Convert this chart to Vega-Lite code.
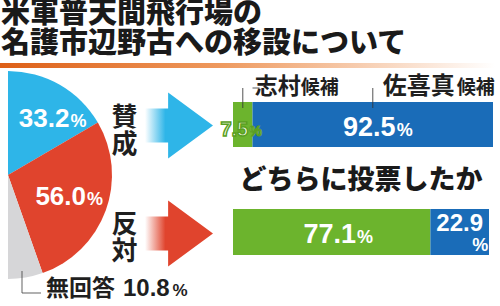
{
  "$schema": "https://vega.github.io/schema/vega-lite/v6.json",
  "padding": 0,
  "background": "#ffffff",
  "title": {
    "text": ["米軍普天間飛行場の", "名護市辺野古への移設について"],
    "anchor": "start",
    "font": "Noto Sans CJK JP",
    "fontSize": 29,
    "fontWeight": 900,
    "color": "#1a1a1a",
    "lineHeight": 30,
    "baseline": "top",
    "offset": 4,
    "dx": 1
  },
  "config": {
    "view": {"stroke": null},
    "text": {"font": "Liberation Sans", "fontWeight": "bold", "baseline": "alphabetic"}
  },
  "bounds": "flush",
  "align": "each",
  "spacing": 34,
  "resolve": {"scale": {"color": "independent"}},
  "vconcat": [
    {
      "width": 495,
      "height": 5,
      "data": {"values": [{"element": "underline"}]},
      "mark": {"type": "rect", "fill": {"gradient": "linear", "x1": 0, "y1": 0, "x2": 1, "y2": 0, "stops": [{"offset": 0, "color": "#dd5f17"}, {"offset": 0.45, "color": "#ee9a5f"}, {"offset": 1, "color": "#ffffff"}]}},
      "encoding": {}
    },
    {
      "bounds": "flush",
      "align": "each",
      "spacing": 20,
      "resolve": {"scale": {"color": "independent"}},
      "hconcat": [
        {
          "width": 16,
          "height": 146,
          "data": {"values": [
            {"answer": "賛成", "no": 1, "pct": 33.2},
            {"answer": "反対", "no": 2, "pct": 56.0},
            {"answer": "無回答", "no": 3, "pct": 10.8}
          ]},
          "encoding": {
            "theta": {"field": "pct", "type": "quantitative", "stack": "zero", "scale": {"domain": [0, 100], "range": [0, 3.14159265]}},
            "order": {"field": "no", "type": "quantitative"}
          },
          "layer": [
            {
              "mark": {"type": "arc", "outerRadius": 104},
              "encoding": {"color": {"field": "answer", "type": "nominal", "scale": {"domain": ["賛成", "反対", "無回答"], "range": ["#2eb5e8", "#e0442d", "#d6d6d8"]}, "legend": null}}
            },
            {
              "mark": {"type": "text", "radius": 70, "align": "right", "dx": 26.6, "dy": 12.7, "fontSize": 26, "color": "#ffffff"},
              "encoding": {"detail": {"field": "answer"}, "text": {"condition": {"test": "datum.answer === '賛成'", "field": "pct", "type": "quantitative", "format": ".1f"}, "value": ""}}
            },
            {
              "mark": {"type": "text", "radius": 70, "align": "left", "dx": 27.6, "dy": 12.7, "fontSize": 18, "color": "#ffffff"},
              "encoding": {"detail": {"field": "answer"}, "text": {"condition": {"test": "datum.answer === '賛成'", "value": "%"}, "value": ""}}
            },
            {
              "mark": {"type": "text", "radius": 70, "align": "right", "dx": 12.3, "dy": 5.9, "fontSize": 26, "color": "#ffffff"},
              "encoding": {"detail": {"field": "answer"}, "text": {"condition": {"test": "datum.answer === '反対'", "field": "pct", "type": "quantitative", "format": ".1f"}, "value": ""}}
            },
            {
              "mark": {"type": "text", "radius": 70, "align": "left", "dx": 13.3, "dy": 5.9, "fontSize": 18, "color": "#ffffff"},
              "encoding": {"detail": {"field": "answer"}, "text": {"condition": {"test": "datum.answer === '反対'", "value": "%"}, "value": ""}}
            },
            {
              "mark": {"type": "text", "radius": 110, "align": "left", "dx": 19.4, "dy": 12.1, "fontSize": 23, "font": "Noto Sans CJK JP", "color": "#1f1f1f"},
              "encoding": {"detail": {"field": "answer"}, "text": {"condition": {"test": "datum.answer === '無回答'", "field": "answer", "type": "nominal"}, "value": ""}}
            },
            {
              "mark": {"type": "text", "radius": 110, "align": "left", "dx": 96.4, "dy": 12.6, "fontSize": 24, "color": "#1f1f1f"},
              "encoding": {"detail": {"field": "answer"}, "text": {"condition": {"test": "datum.answer === '無回答'", "field": "pct", "type": "quantitative", "format": ".1f"}, "value": ""}}
            },
            {
              "mark": {"type": "text", "radius": 110, "align": "left", "dx": 146, "dy": 12.6, "fontSize": 17, "color": "#1f1f1f"},
              "encoding": {"detail": {"field": "answer"}, "text": {"condition": {"test": "datum.answer === '無回答'", "value": "%"}, "value": ""}}
            },
            {
              "transform": [{"filter": "datum.answer === '無回答'"}],
              "mark": {"type": "tick", "orient": "vertical", "size": 22, "thickness": 1.2, "color": "#444444", "xOffset": 14, "yOffset": 107},
              "encoding": {"theta": null, "order": null}
            },
            {
              "transform": [{"filter": "datum.answer === '無回答'"}],
              "mark": {"type": "tick", "orient": "horizontal", "size": 19, "thickness": 1.2, "color": "#444444", "xOffset": 23.5, "yOffset": 118},
              "encoding": {"theta": null, "order": null}
            }
          ]
        },
        {
          "width": 177,
          "height": 155,
          "data": {"values": [{"answer": "賛成"}, {"answer": "反対"}]},
          "encoding": {
            "y": {"field": "answer", "type": "nominal", "scale": {"type": "point", "domain": ["賛成", "反対"], "padding": 0.2176}, "axis": null}
          },
          "layer": [
            {
              "transform": [{"filter": "datum.answer === '賛成'"}],
              "mark": {"type": "point", "shape": "M-1,-0.5L-0.32,-0.5L-0.32,-0.97L1,0L-0.32,0.97L-0.32,0.5L-1,0.5Z", "size": 4624, "filled": true, "opacity": 1, "strokeWidth": 0, "xOffset": 54.5, "fill": {"gradient": "linear", "x1": 0, "y1": 0, "x2": 1, "y2": 0, "stops": [{"offset": 0, "color": "#ffffff"}, {"offset": 0.3, "color": "#2eb5e8"}, {"offset": 1, "color": "#2eb5e8"}]}}
            },
            {
              "transform": [{"filter": "datum.answer === '反対'"}],
              "mark": {"type": "point", "shape": "M-1,-0.5L-0.32,-0.5L-0.32,-0.97L1,0L-0.32,0.97L-0.32,0.5L-1,0.5Z", "size": 4624, "filled": true, "opacity": 1, "strokeWidth": 0, "xOffset": 54.5, "fill": {"gradient": "linear", "x1": 0, "y1": 0, "x2": 1, "y2": 0, "stops": [{"offset": 0, "color": "#ffffff"}, {"offset": 0.3, "color": "#e0442d"}, {"offset": 1, "color": "#e0442d"}]}}
            },
            {
              "transform": [{"calculate": "split(datum.answer, '')", "as": "lines"}],
              "mark": {"type": "text", "font": "Noto Sans CJK JP", "fontSize": 26, "lineHeight": 27, "baseline": "middle", "align": "center", "dy": -8, "color": "#1f1f1f"},
              "encoding": {"text": {"field": "lines"}}
            }
          ]
        },
        {
          "bounds": "flush",
          "align": "each",
          "spacing": 62,
          "vconcat": [
            {
              "width": 260,
              "height": 45,
              "data": {"values": [
                {"question": "投票先", "candidate": "志村", "no": 1, "pct": 7.5},
                {"question": "投票先", "candidate": "佐喜真", "no": 2, "pct": 92.5}
              ]},
              "encoding": {
                "y": {"field": "question", "type": "nominal", "scale": {"paddingInner": 0, "paddingOuter": 0}, "axis": null},
                "order": {"field": "no", "type": "quantitative"},
                "detail": {"field": "candidate"}
              },
              "layer": [
                {
                  "mark": {"type": "bar"},
                  "encoding": {
                    "x": {"field": "pct", "type": "quantitative", "stack": "zero", "scale": {"domain": [0, 100], "nice": false}, "axis": null},
                    "color": {"field": "candidate", "type": "nominal", "scale": {"domain": ["志村", "佐喜真"], "range": ["#6cb42d", "#1a6cb8"]}, "legend": null}
                  }
                },
                {
                  "mark": {"type": "text", "align": "right", "dx": 5.5, "dy": 11.5, "fontSize": 20, "color": "#f4fbea", "stroke": "#5a9f22", "strokeWidth": 1.5},
                  "encoding": {
                    "x": {"field": "pct", "type": "quantitative", "stack": "zero", "bandPosition": 0.5},
                    "text": {"condition": {"test": "datum.candidate === '志村'", "field": "pct", "type": "quantitative", "format": ".1f"}, "value": ""}
                  }
                },
                {
                  "mark": {"type": "text", "align": "left", "dx": 6.5, "dy": 11.5, "fontSize": 14, "color": "#f4fbea", "stroke": "#5a9f22", "strokeWidth": 1.2},
                  "encoding": {
                    "x": {"field": "pct", "type": "quantitative", "stack": "zero", "bandPosition": 0.5},
                    "text": {"condition": {"test": "datum.candidate === '志村'", "value": "%"}, "value": ""}
                  }
                },
                {
                  "mark": {"type": "text", "align": "right", "dx": 22.75, "dy": 11.5, "fontSize": 27, "color": "#ffffff"},
                  "encoding": {
                    "x": {"field": "pct", "type": "quantitative", "stack": "zero", "bandPosition": 0.5},
                    "text": {"condition": {"test": "datum.candidate === '佐喜真'", "field": "pct", "type": "quantitative", "format": ".1f"}, "value": ""}
                  }
                },
                {
                  "mark": {"type": "text", "align": "left", "dx": 24, "dy": 11.5, "fontSize": 18, "color": "#ffffff"},
                  "encoding": {
                    "x": {"field": "pct", "type": "quantitative", "stack": "zero", "bandPosition": 0.5},
                    "text": {"condition": {"test": "datum.candidate === '佐喜真'", "value": "%"}, "value": ""}
                  }
                },
                {
                  "mark": {"type": "text", "align": "left", "dx": 12, "dy": -30.5, "fontSize": 23, "font": "Noto Sans CJK JP", "color": "#1f1f1f"},
                  "encoding": {
                    "x": {"field": "pct", "type": "quantitative", "stack": "zero", "bandPosition": 0.5},
                    "text": {"condition": {"test": "datum.candidate === '志村'", "field": "candidate", "type": "nominal"}, "value": ""}
                  }
                },
                {
                  "mark": {"type": "text", "align": "left", "dx": 58, "dy": -30.5, "fontSize": 19, "font": "Noto Sans CJK JP", "color": "#1f1f1f"},
                  "encoding": {
                    "x": {"field": "pct", "type": "quantitative", "stack": "zero", "bandPosition": 0.5},
                    "text": {"condition": {"test": "datum.candidate === '志村'", "value": "候補"}, "value": ""}
                  }
                },
                {
                  "mark": {"type": "text", "align": "left", "dx": 10, "dy": -30.5, "fontSize": 24, "font": "Noto Sans CJK JP", "color": "#1f1f1f"},
                  "encoding": {
                    "x": {"field": "pct", "type": "quantitative", "stack": "zero", "bandPosition": 0.5},
                    "text": {"condition": {"test": "datum.candidate === '佐喜真'", "field": "candidate", "type": "nominal"}, "value": ""}
                  }
                },
                {
                  "mark": {"type": "text", "align": "left", "dx": 84, "dy": -30.5, "fontSize": 19, "font": "Noto Sans CJK JP", "color": "#1f1f1f"},
                  "encoding": {
                    "x": {"field": "pct", "type": "quantitative", "stack": "zero", "bandPosition": 0.5},
                    "text": {"condition": {"test": "datum.candidate === '佐喜真'", "value": "候補"}, "value": ""}
                  }
                },
                {
                  "mark": {"type": "tick", "orient": "vertical", "size": 20, "thickness": 1.2, "color": "#333333", "yOffset": -26.5},
                  "encoding": {
                    "x": {"field": "pct", "type": "quantitative", "stack": "zero", "bandPosition": 0.5}
                  }
                },
                {
                  "mark": {"type": "tick", "orient": "horizontal", "size": 7, "thickness": 1.2, "color": "#333333", "xOffset": 3.5, "yOffset": -36.5},
                  "encoding": {
                    "x": {"field": "pct", "type": "quantitative", "stack": "zero", "bandPosition": 0.5}
                  }
                }
              ]
            },
            {
              "width": 256,
              "height": 46,
              "title": {"text": "どちらに投票したか", "font": "Noto Sans CJK JP", "fontSize": 27, "fontWeight": 900, "color": "#1a1a1a", "anchor": "middle", "offset": 14},
              "data": {"values": [
                {"question": "投票先", "candidate": "志村", "no": 1, "pct": 77.1},
                {"question": "投票先", "candidate": "佐喜真", "no": 2, "pct": 22.9}
              ]},
              "encoding": {
                "y": {"field": "question", "type": "nominal", "scale": {"paddingInner": 0, "paddingOuter": 0}, "axis": null},
                "order": {"field": "no", "type": "quantitative"},
                "detail": {"field": "candidate"}
              },
              "layer": [
                {
                  "mark": {"type": "bar"},
                  "encoding": {
                    "x": {"field": "pct", "type": "quantitative", "stack": "zero", "scale": {"domain": [0, 100], "nice": false}, "axis": null},
                    "color": {"field": "candidate", "type": "nominal", "scale": {"domain": ["志村", "佐喜真"], "range": ["#6cb42d", "#1a6cb8"]}, "legend": null}
                  }
                },
                {
                  "mark": {"type": "text", "align": "right", "dx": 24.3, "dy": 11, "fontSize": 27, "color": "#ffffff"},
                  "encoding": {
                    "x": {"field": "pct", "type": "quantitative", "stack": "zero", "bandPosition": 0.5},
                    "text": {"condition": {"test": "datum.candidate === '志村'", "field": "pct", "type": "quantitative", "format": ".1f"}, "value": ""}
                  }
                },
                {
                  "mark": {"type": "text", "align": "left", "dx": 25.3, "dy": 11, "fontSize": 18, "color": "#ffffff"},
                  "encoding": {
                    "x": {"field": "pct", "type": "quantitative", "stack": "zero", "bandPosition": 0.5},
                    "text": {"condition": {"test": "datum.candidate === '志村'", "value": "%"}, "value": ""}
                  }
                },
                {
                  "mark": {"type": "text", "align": "center", "dx": 0, "dy": -1, "fontSize": 24, "color": "#ffffff"},
                  "encoding": {
                    "x": {"field": "pct", "type": "quantitative", "stack": "zero", "bandPosition": 0.5},
                    "text": {"condition": {"test": "datum.candidate === '佐喜真'", "field": "pct", "type": "quantitative", "format": ".1f"}, "value": ""}
                  }
                },
                {
                  "mark": {"type": "text", "align": "right", "dx": 28.5, "dy": 19, "fontSize": 18, "color": "#ffffff"},
                  "encoding": {
                    "x": {"field": "pct", "type": "quantitative", "stack": "zero", "bandPosition": 0.5},
                    "text": {"condition": {"test": "datum.candidate === '佐喜真'", "value": "%"}, "value": ""}
                  }
                }
              ]
            }
          ]
        }
      ]
    }
  ]
}
